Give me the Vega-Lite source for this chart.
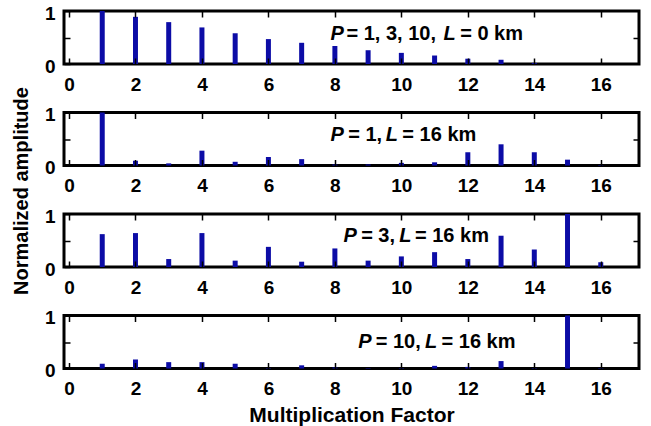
{
  "$schema": "https://vega.github.io/schema/vega-lite/v6.json",
  "background": "white",
  "padding": {"left": 9, "top": 2, "right": 5, "bottom": 3},
  "datasets": {
    "bars": [
      {"panel": 1, "k": 1, "amp": 1.0}, {"panel": 1, "k": 2, "amp": 0.89}, {"panel": 1, "k": 3, "amp": 0.79}, {"panel": 1, "k": 4, "amp": 0.69},
      {"panel": 1, "k": 5, "amp": 0.58}, {"panel": 1, "k": 6, "amp": 0.47}, {"panel": 1, "k": 7, "amp": 0.40}, {"panel": 1, "k": 8, "amp": 0.34},
      {"panel": 1, "k": 9, "amp": 0.26}, {"panel": 1, "k": 10, "amp": 0.21}, {"panel": 1, "k": 11, "amp": 0.16}, {"panel": 1, "k": 12, "amp": 0.10},
      {"panel": 1, "k": 13, "amp": 0.08}, {"panel": 1, "k": 14, "amp": 0.02}, {"panel": 1, "k": 15, "amp": 0.0}, {"panel": 1, "k": 16, "amp": 0.0},
      {"panel": 2, "k": 1, "amp": 1.0}, {"panel": 2, "k": 2, "amp": 0.09}, {"panel": 2, "k": 3, "amp": 0.04}, {"panel": 2, "k": 4, "amp": 0.28},
      {"panel": 2, "k": 5, "amp": 0.07}, {"panel": 2, "k": 6, "amp": 0.16}, {"panel": 2, "k": 7, "amp": 0.12}, {"panel": 2, "k": 8, "amp": 0.02},
      {"panel": 2, "k": 9, "amp": 0.02}, {"panel": 2, "k": 10, "amp": 0.05}, {"panel": 2, "k": 11, "amp": 0.06}, {"panel": 2, "k": 12, "amp": 0.25},
      {"panel": 2, "k": 13, "amp": 0.40}, {"panel": 2, "k": 14, "amp": 0.25}, {"panel": 2, "k": 15, "amp": 0.11}, {"panel": 2, "k": 16, "amp": 0.01},
      {"panel": 3, "k": 1, "amp": 0.62}, {"panel": 3, "k": 2, "amp": 0.64}, {"panel": 3, "k": 3, "amp": 0.15}, {"panel": 3, "k": 4, "amp": 0.64},
      {"panel": 3, "k": 5, "amp": 0.12}, {"panel": 3, "k": 6, "amp": 0.38}, {"panel": 3, "k": 7, "amp": 0.10}, {"panel": 3, "k": 8, "amp": 0.35},
      {"panel": 3, "k": 9, "amp": 0.12}, {"panel": 3, "k": 10, "amp": 0.20}, {"panel": 3, "k": 11, "amp": 0.28}, {"panel": 3, "k": 12, "amp": 0.15},
      {"panel": 3, "k": 13, "amp": 0.59}, {"panel": 3, "k": 14, "amp": 0.33}, {"panel": 3, "k": 15, "amp": 1.0}, {"panel": 3, "k": 16, "amp": 0.09},
      {"panel": 4, "k": 1, "amp": 0.09}, {"panel": 4, "k": 2, "amp": 0.17}, {"panel": 4, "k": 3, "amp": 0.12}, {"panel": 4, "k": 4, "amp": 0.12},
      {"panel": 4, "k": 5, "amp": 0.09}, {"panel": 4, "k": 6, "amp": 0.01}, {"panel": 4, "k": 7, "amp": 0.06}, {"panel": 4, "k": 8, "amp": 0.02},
      {"panel": 4, "k": 9, "amp": 0.01}, {"panel": 4, "k": 10, "amp": 0.01}, {"panel": 4, "k": 11, "amp": 0.05}, {"panel": 4, "k": 12, "amp": 0.03},
      {"panel": 4, "k": 13, "amp": 0.14}, {"panel": 4, "k": 14, "amp": 0.01}, {"panel": 4, "k": 15, "amp": 1.0}, {"panel": 4, "k": 16, "amp": 0.01}
    ],
    "labels": [
      {"panel": 1, "x": 7.87, "y": 0.46, "text": "P", "italic": true},
      {"panel": 1, "x": 8.35, "y": 0.46, "text": "= 1, 3, 10,", "italic": false},
      {"panel": 1, "x": 11.27, "y": 0.46, "text": "L", "italic": true},
      {"panel": 1, "x": 11.77, "y": 0.46, "text": "= 0 km", "italic": false},
      {"panel": 2, "x": 7.87, "y": 0.47, "text": "P", "italic": true},
      {"panel": 2, "x": 8.40, "y": 0.47, "text": "= 1,", "italic": false},
      {"panel": 2, "x": 9.53, "y": 0.47, "text": "L", "italic": true},
      {"panel": 2, "x": 10.03, "y": 0.47, "text": "= 16 km", "italic": false},
      {"panel": 3, "x": 8.26, "y": 0.47, "text": "P", "italic": true},
      {"panel": 3, "x": 8.79, "y": 0.47, "text": "= 3,", "italic": false},
      {"panel": 3, "x": 9.94, "y": 0.47, "text": "L", "italic": true},
      {"panel": 3, "x": 10.41, "y": 0.47, "text": "= 16 km", "italic": false},
      {"panel": 4, "x": 8.70, "y": 0.38, "text": "P", "italic": true},
      {"panel": 4, "x": 9.23, "y": 0.38, "text": "= 10,", "italic": false},
      {"panel": 4, "x": 10.71, "y": 0.38, "text": "L", "italic": true},
      {"panel": 4, "x": 11.21, "y": 0.38, "text": "= 16 km", "italic": false}
    ]
  },
  "spacing": 48.5,
  "bounds": "flush",
  "vconcat": [
    {
      "width": 575, "height": 53,
      "resolve": {"axis": {"x": "independent", "y": "independent"}},
      "layer": [
        {
          "data": {"name": "bars"},
          "transform": [{"filter": "datum.panel == 1"}],
          "mark": {"type": "bar", "size": 5, "color": "#0c0ca6"},
          "encoding": {
            "x": {"field": "k", "type": "quantitative", "scale": {"domain": [0, 17], "nice": false},
                  "axis": {"orient": "bottom", "values": [0, 2, 4, 6, 8, 10, 12, 14, 16], "title": null, "domain": false, "ticks": true, "tickSize": 6, "offset": -6, "tickColor": "black", "tickWidth": 1.5, "zindex": 1, "labelPadding": 11, "labelFlush": false, "labelOverlap": false}},
            "y": {"field": "amp", "type": "quantitative", "scale": {"domain": [0, 1], "nice": false},
                  "axis": {"orient": "left", "values": [0, 0.5, 1], "labelExpr": "datum.value == 0 ? '0' : datum.value == 1 ? '1' : ''", "title": null, "domain": false, "ticks": true, "tickSize": 6, "offset": -6, "tickColor": "black", "tickWidth": 1.5, "zindex": 1, "labelPadding": 9, "labelOffset": 2, "labelFlush": false, "labelOverlap": false}}
          }
        },
        {
          "data": {"name": "labels"},
          "transform": [{"filter": "datum.panel == 1 && datum.italic"}],
          "mark": {"type": "text", "align": "left", "baseline": "alphabetic", "font": "Liberation Sans", "fontSize": 20, "fontWeight": "bold", "fontStyle": "italic", "color": "black"},
          "encoding": {
            "x": {"field": "x", "type": "quantitative", "axis": {"orient": "top", "values": [0, 2, 4, 6, 8, 10, 12, 14, 16], "labels": false, "title": null, "domain": false, "ticks": true, "tickSize": 6, "offset": -6, "tickColor": "black", "tickWidth": 1.5, "zindex": 1}},
            "y": {"field": "y", "type": "quantitative", "axis": {"orient": "right", "values": [0.5], "labels": false, "title": null, "domain": false, "ticks": true, "tickSize": 6, "offset": -6, "tickColor": "black", "tickWidth": 1.5, "zindex": 1}},
            "text": {"field": "text"}
          }
        },
        {
          "data": {"name": "labels"},
          "transform": [{"filter": "datum.panel == 1 && !datum.italic"}],
          "mark": {"type": "text", "align": "left", "baseline": "alphabetic", "font": "Liberation Sans", "fontSize": 20, "fontWeight": "bold", "color": "black"},
          "encoding": {
            "x": {"field": "x", "type": "quantitative", "axis": null},
            "y": {"field": "y", "type": "quantitative", "axis": null},
            "text": {"field": "text"}
          }
        }
      ]
    },
    {
      "width": 575, "height": 53,
      "resolve": {"axis": {"x": "independent", "y": "independent"}},
      "layer": [
        {
          "data": {"name": "bars"},
          "transform": [{"filter": "datum.panel == 2"}],
          "mark": {"type": "bar", "size": 5, "color": "#0c0ca6"},
          "encoding": {
            "x": {"field": "k", "type": "quantitative", "scale": {"domain": [0, 17], "nice": false},
                  "axis": {"orient": "bottom", "values": [0, 2, 4, 6, 8, 10, 12, 14, 16], "title": null, "domain": false, "ticks": true, "tickSize": 6, "offset": -6, "tickColor": "black", "tickWidth": 1.5, "zindex": 1, "labelPadding": 11, "labelFlush": false, "labelOverlap": false}},
            "y": {"field": "amp", "type": "quantitative", "scale": {"domain": [0, 1], "nice": false},
                  "axis": {"orient": "left", "values": [0, 0.5, 1], "labelExpr": "datum.value == 0 ? '0' : datum.value == 1 ? '1' : ''", "title": "Normalized amplitude", "titleY": 78, "titleFontSize": 20, "titlePadding": 13, "domain": false, "ticks": true, "tickSize": 6, "offset": -6, "tickColor": "black", "tickWidth": 1.5, "zindex": 1, "labelPadding": 9, "labelOffset": 2, "labelFlush": false, "labelOverlap": false}}
          }
        },
        {
          "data": {"name": "labels"},
          "transform": [{"filter": "datum.panel == 2 && datum.italic"}],
          "mark": {"type": "text", "align": "left", "baseline": "alphabetic", "font": "Liberation Sans", "fontSize": 20, "fontWeight": "bold", "fontStyle": "italic", "color": "black"},
          "encoding": {
            "x": {"field": "x", "type": "quantitative", "axis": {"orient": "top", "values": [0, 2, 4, 6, 8, 10, 12, 14, 16], "labels": false, "title": null, "domain": false, "ticks": true, "tickSize": 6, "offset": -6, "tickColor": "black", "tickWidth": 1.5, "zindex": 1}},
            "y": {"field": "y", "type": "quantitative", "axis": {"orient": "right", "values": [0.5], "labels": false, "title": null, "domain": false, "ticks": true, "tickSize": 6, "offset": -6, "tickColor": "black", "tickWidth": 1.5, "zindex": 1}},
            "text": {"field": "text"}
          }
        },
        {
          "data": {"name": "labels"},
          "transform": [{"filter": "datum.panel == 2 && !datum.italic"}],
          "mark": {"type": "text", "align": "left", "baseline": "alphabetic", "font": "Liberation Sans", "fontSize": 20, "fontWeight": "bold", "color": "black"},
          "encoding": {
            "x": {"field": "x", "type": "quantitative", "axis": null},
            "y": {"field": "y", "type": "quantitative", "axis": null},
            "text": {"field": "text"}
          }
        }
      ]
    },
    {
      "width": 575, "height": 53,
      "resolve": {"axis": {"x": "independent", "y": "independent"}},
      "layer": [
        {
          "data": {"name": "bars"},
          "transform": [{"filter": "datum.panel == 3"}],
          "mark": {"type": "bar", "size": 5, "color": "#0c0ca6"},
          "encoding": {
            "x": {"field": "k", "type": "quantitative", "scale": {"domain": [0, 17], "nice": false},
                  "axis": {"orient": "bottom", "values": [0, 2, 4, 6, 8, 10, 12, 14, 16], "title": null, "domain": false, "ticks": true, "tickSize": 6, "offset": -6, "tickColor": "black", "tickWidth": 1.5, "zindex": 1, "labelPadding": 11, "labelFlush": false, "labelOverlap": false}},
            "y": {"field": "amp", "type": "quantitative", "scale": {"domain": [0, 1], "nice": false},
                  "axis": {"orient": "left", "values": [0, 0.5, 1], "labelExpr": "datum.value == 0 ? '0' : datum.value == 1 ? '1' : ''", "title": null, "domain": false, "ticks": true, "tickSize": 6, "offset": -6, "tickColor": "black", "tickWidth": 1.5, "zindex": 1, "labelPadding": 9, "labelOffset": 2, "labelFlush": false, "labelOverlap": false}}
          }
        },
        {
          "data": {"name": "labels"},
          "transform": [{"filter": "datum.panel == 3 && datum.italic"}],
          "mark": {"type": "text", "align": "left", "baseline": "alphabetic", "font": "Liberation Sans", "fontSize": 20, "fontWeight": "bold", "fontStyle": "italic", "color": "black"},
          "encoding": {
            "x": {"field": "x", "type": "quantitative", "axis": {"orient": "top", "values": [0, 2, 4, 6, 8, 10, 12, 14, 16], "labels": false, "title": null, "domain": false, "ticks": true, "tickSize": 6, "offset": -6, "tickColor": "black", "tickWidth": 1.5, "zindex": 1}},
            "y": {"field": "y", "type": "quantitative", "axis": {"orient": "right", "values": [0.5], "labels": false, "title": null, "domain": false, "ticks": true, "tickSize": 6, "offset": -6, "tickColor": "black", "tickWidth": 1.5, "zindex": 1}},
            "text": {"field": "text"}
          }
        },
        {
          "data": {"name": "labels"},
          "transform": [{"filter": "datum.panel == 3 && !datum.italic"}],
          "mark": {"type": "text", "align": "left", "baseline": "alphabetic", "font": "Liberation Sans", "fontSize": 20, "fontWeight": "bold", "color": "black"},
          "encoding": {
            "x": {"field": "x", "type": "quantitative", "axis": null},
            "y": {"field": "y", "type": "quantitative", "axis": null},
            "text": {"field": "text"}
          }
        }
      ]
    },
    {
      "width": 575, "height": 53,
      "resolve": {"axis": {"x": "independent", "y": "independent"}},
      "layer": [
        {
          "data": {"name": "bars"},
          "transform": [{"filter": "datum.panel == 4"}],
          "mark": {"type": "bar", "size": 5, "color": "#0c0ca6"},
          "encoding": {
            "x": {"field": "k", "type": "quantitative", "scale": {"domain": [0, 17], "nice": false},
                  "axis": {"orient": "bottom", "values": [0, 2, 4, 6, 8, 10, 12, 14, 16], "title": "Multiplication Factor", "titleFontSize": 21, "titlePadding": 6, "domain": false, "ticks": true, "tickSize": 6, "offset": -6, "tickColor": "black", "tickWidth": 1.5, "zindex": 1, "labelPadding": 11, "labelFlush": false, "labelOverlap": false}},
            "y": {"field": "amp", "type": "quantitative", "scale": {"domain": [0, 1], "nice": false},
                  "axis": {"orient": "left", "values": [0, 0.5, 1], "labelExpr": "datum.value == 0 ? '0' : datum.value == 1 ? '1' : ''", "title": null, "domain": false, "ticks": true, "tickSize": 6, "offset": -6, "tickColor": "black", "tickWidth": 1.5, "zindex": 1, "labelPadding": 9, "labelOffset": 2, "labelFlush": false, "labelOverlap": false}}
          }
        },
        {
          "data": {"name": "labels"},
          "transform": [{"filter": "datum.panel == 4 && datum.italic"}],
          "mark": {"type": "text", "align": "left", "baseline": "alphabetic", "font": "Liberation Sans", "fontSize": 20, "fontWeight": "bold", "fontStyle": "italic", "color": "black"},
          "encoding": {
            "x": {"field": "x", "type": "quantitative", "axis": {"orient": "top", "values": [0, 2, 4, 6, 8, 10, 12, 14, 16], "labels": false, "title": null, "domain": false, "ticks": true, "tickSize": 6, "offset": -6, "tickColor": "black", "tickWidth": 1.5, "zindex": 1}},
            "y": {"field": "y", "type": "quantitative", "axis": {"orient": "right", "values": [0.5], "labels": false, "title": null, "domain": false, "ticks": true, "tickSize": 6, "offset": -6, "tickColor": "black", "tickWidth": 1.5, "zindex": 1}},
            "text": {"field": "text"}
          }
        },
        {
          "data": {"name": "labels"},
          "transform": [{"filter": "datum.panel == 4 && !datum.italic"}],
          "mark": {"type": "text", "align": "left", "baseline": "alphabetic", "font": "Liberation Sans", "fontSize": 20, "fontWeight": "bold", "color": "black"},
          "encoding": {
            "x": {"field": "x", "type": "quantitative", "axis": null},
            "y": {"field": "y", "type": "quantitative", "axis": null},
            "text": {"field": "text"}
          }
        }
      ]
    }
  ],
  "config": {
    "view": {"stroke": "black", "strokeWidth": 3},
    "axis": {
      "grid": false,
      "labelFont": "Liberation Sans", "labelFontSize": 19, "labelFontWeight": "bold", "labelColor": "black",
      "titleFont": "Liberation Sans", "titleFontWeight": "bold", "titleFontSize": 20, "titleColor": "black"
    }
  }
}
